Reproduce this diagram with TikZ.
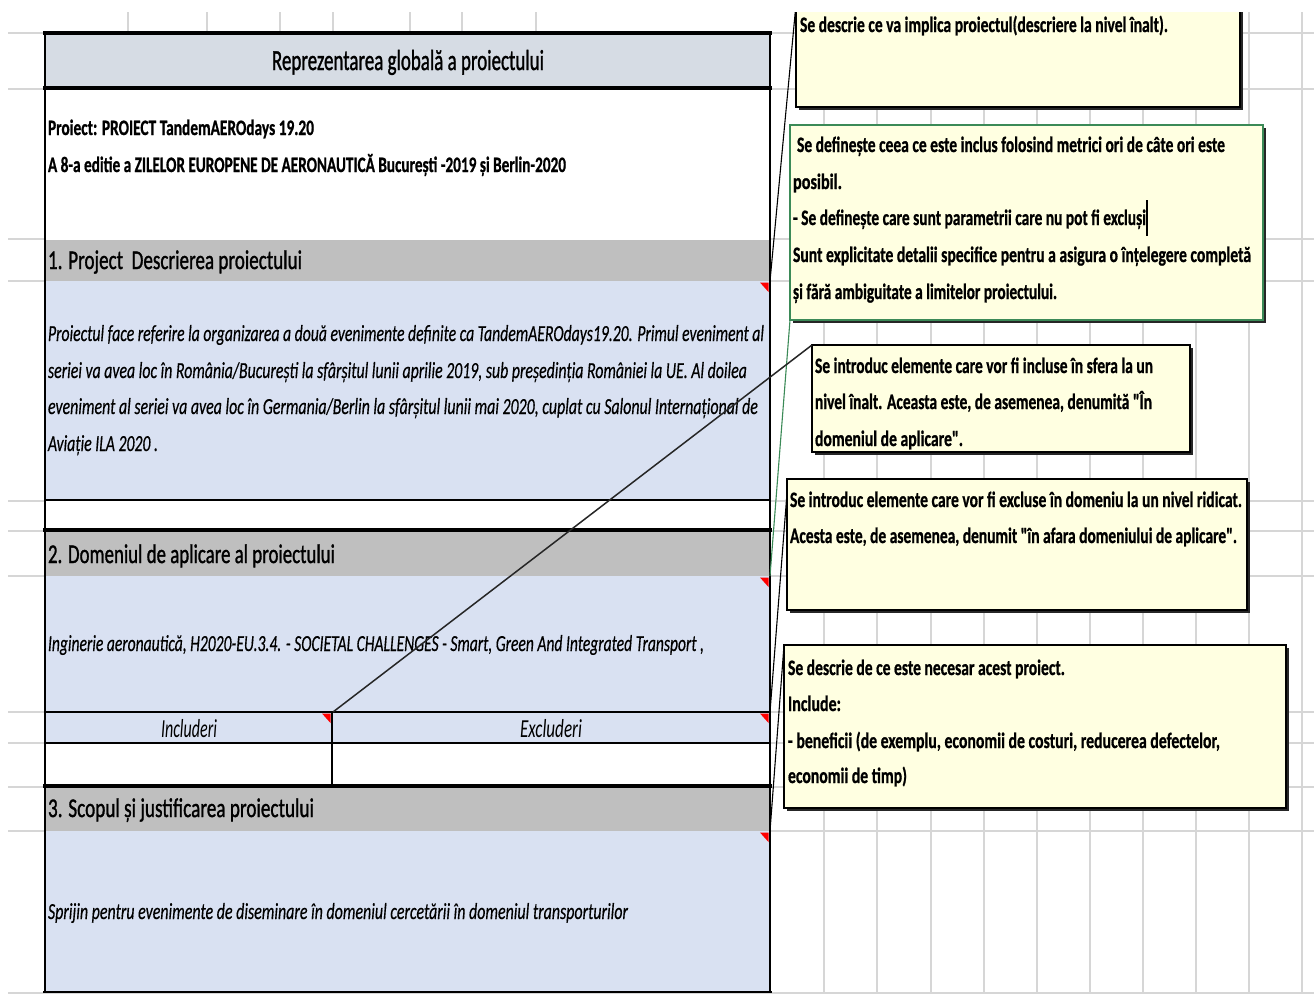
\documentclass[tikz,border=0pt]{standalone}
\usepackage{fontspec}
\usepackage{graphicx}
\setmainfont{Carlito}
% slightly heavier faces for headings and comment notes
\newfontfamily\headface{Carlito}[FakeBold=1.4]
\newfontfamily\noteface{Carlito}[BoldFeatures={FakeBold=1}]
\newfontfamily\bodyface{Carlito}[ItalicFeatures={FakeBold=0.5}]
\usetikzlibrary{shadows}
\definecolor{gridc}{HTML}{D6D6D6}
\definecolor{headc}{HTML}{D6DCE4}
\definecolor{bandc}{HTML}{BFBFBF}
\definecolor{bluec}{HTML}{D9E1F2}
\definecolor{notec}{HTML}{FFFFE1}
\definecolor{shadec}{HTML}{262626}
\definecolor{greenc}{HTML}{3B8A57}
\definecolor{markc}{HTML}{FF0000}
% squeeze a line of text to a given width (in pt), keeping its height
\newcommand\fitw[2]{\resizebox{#1pt}{\height}{#2}}
\newcommand\dq{\textquotedbl}

\begin{document}
\begin{tikzpicture}[x=1pt,y=-1pt,
  gridline/.style={draw=gridc,line width=1.8pt},
  rulethick/.style={line width=3.5pt},
  rulethin/.style={line width=1.8pt},
  txt/.style={anchor=base west,inner sep=0pt,outer sep=0pt},
  ctxt/.style={anchor=base,inner sep=0pt,outer sep=0pt},
  hfont/.style={font=\fontsize{29}{32}\headface},
  sfont/.style={font=\fontsize{27}{30}\headface},
  bfont/.style={font=\fontsize{22}{26}\noteface\bfseries},
  ifont/.style={font=\fontsize{23}{27}\bodyface\itshape},
  cfont/.style={font=\fontsize{26}{30}\selectfont\itshape},
  nfont/.style={font=\fontsize{22}{26}\noteface\bfseries},
  note/.style={draw=black,line width=1.6pt,fill=notec,anchor=north west,
    inner sep=0pt,outer sep=0pt,
    general shadow={fill=shadec,shadow xshift=3pt,shadow yshift=-3pt}},
  link/.style={draw=black,line width=1.1pt},
  marker/.style={fill=markc}]

\useasboundingbox (0,0) rectangle (1314,994);
\fill[white] (0,0) rectangle (1314,994);

\begin{scope}
\clip (0,12) rectangle (1314,994);

% sheet grid
\foreach \y in {33,89,239,281,501,531,576,712,743,787,831,993}
  \draw[gridline] (8,\y) -- (1314,\y);
\foreach \x in {824,877,931,984,1037,1090,1143,1196,1249,1302}
  \draw[gridline] (\x,0) -- (\x,994);
\foreach \x in {128,207,280,333,410,462,536}
  \draw[gridline] (\x,0) -- (\x,40);

% cell fills
\fill[headc] (45,33) rectangle (770,88);
\fill[white] (45,88) rectangle (770,240);
\fill[bandc] (45,240) rectangle (770,281);
\fill[bluec] (45,281) rectangle (770,500);
\fill[white] (45,500) rectangle (770,530);
\fill[bandc] (45,530) rectangle (770,576);
\fill[bluec] (45,576) rectangle (770,743);
\fill[white] (45,743) rectangle (770,786);
\fill[bandc] (45,786) rectangle (770,831);
\fill[bluec] (45,831) rectangle (770,992);

% borders
\draw[rulethick] (43,33) -- (772,33);
\draw[rulethick] (43,88) -- (772,88);
\draw[rulethin] (45,500) -- (770,500);
\draw[rulethick] (43,530) -- (772,530);
\draw[rulethin] (45,712) -- (770,712);
\draw[rulethin] (45,743) -- (770,743);
\draw[rulethick] (43,786) -- (772,786);
\draw[line width=2.5pt] (43,992) -- (772,992);
\draw[line width=2.5pt] (45,33) -- (45,992);
\draw[line width=2.8pt] (770,33) -- (770,992);
\draw[line width=2.5pt] (332,712) -- (332,786);

% comment indicators
\foreach \px/\py in {770/281,770/576,332/712,770/712,770/831}
  \fill[marker] (\px-10,\py+1.5) -- (\px-1.5,\py+1.5) -- (\px-1.5,\py+11) -- cycle;

% cell texts
\node[ctxt,hfont] (ttl) at (408,70) {\fitw{272}{Reprezentarea globală a proiectului}};
\node[txt,bfont] (pr1) at (48,135) {\fitw{266}{Proiect: PROIECT TandemAEROdays 19.20}};
\node[txt,bfont] (pr2) at (48,172) {\fitw{518}{A 8-a editie a ZILELOR EUROPENE DE AERONAUTICĂ București -2019 și Berlin-2020}};
\node[txt,sfont] (sec1) at (48,269) {\fitw{254}{1. Project~~Descrierea proiectului}};
\node[txt,ifont] (ds1) at (48,341) {\fitw{716}{Proiectul face referire la organizarea a două evenimente definite ca TandemAEROdays19.20. Primul eveniment al}};
\node[txt,ifont] (ds2) at (48,378) {\fitw{699}{seriei va avea loc în România/București la sfârșitul lunii aprilie 2019, sub președinția României la UE. Al doilea}};
\node[txt,ifont] (ds3) at (48,414) {\fitw{710}{eveniment al seriei va avea loc în Germania/Berlin la sfârșitul lunii mai 2020, cuplat cu Salonul Internațional de}};
\node[txt,ifont] (ds4) at (48,451) {\fitw{110}{Aviație ILA 2020 .}};
\node[txt,sfont] (sec2) at (48,563) {\fitw{287}{2. Domeniul de aplicare al proiectului}};
\node[txt,ifont] (dom) at (48,651) {\fitw{656}{Inginerie aeronautică, H2020-EU.3.4. - SOCIETAL CHALLENGES - Smart, Green And Integrated Transport ,}};
\node[ctxt,cfont] (inc) at (189,737) {\fitw{56}{Includeri}};
\node[ctxt,cfont] (exc) at (551,737) {\fitw{62}{Excluderi}};
\node[txt,sfont] (sec3) at (48,817) {\fitw{266}{3. Scopul și justificarea proiectului}};
\node[txt,ifont] (jus) at (48,919) {\fitw{580}{Sprijin pentru evenimente de diseminare în domeniul cercetării în domeniul transporturilor}};

% anchor points of the comments
\coordinate (k1) at (770,281);
\coordinate (k2) at (770,576);
\coordinate (k3) at (333,712);
\coordinate (k4) at (770,712);
\coordinate (k5) at (770,831);

% comment boxes
\node[note,minimum width=444pt,minimum height=103pt] (n1) at (796,4) {};
\node[note,draw=greenc,minimum width=473pt,minimum height=195pt] (n2) at (790,125) {};
\node[note,minimum width=378pt,minimum height=107pt] (n3) at (812,345) {};
\node[note,minimum width=460pt,minimum height=131pt] (n4) at (787,479) {};
\node[note,minimum width=502pt,minimum height=163pt] (n5) at (784,645) {};

% callout lines
\draw[link] (k1) -- (n1.north west);
\draw[link,draw=greenc] (k2) -- (n2.south west);
\draw[link,draw=black!85,line width=1.5pt] (k3) -- (n3.north west);
\draw[link] (k4) -- ([yshift=-14pt]n4.north west);
\draw[link] (k5) -- (n5.north west);

% comment texts
\node[txt,nfont] (t1) at (800,32) {\fitw{368}{Se descrie ce va implica proiectul(descriere la nivel înalt).}};

\node[txt,nfont] (t2a) at (797,152) {\fitw{428}{Se definește ceea ce este inclus folosind metrici ori de câte ori este}};
\node[txt,nfont] (t2b) at (793,189) {\fitw{49}{posibil.}};
\node[txt,nfont] (t2c) at (793,225) {\fitw{353}{- Se definește care sunt parametrii care nu pot fi excluși}};
\node[txt,nfont] (t2d) at (793,262) {\fitw{458}{Sunt explicitate detalii specifice pentru a asigura o înțelegere completă}};
\node[txt,nfont] (t2e) at (793,299) {\fitw{264}{și fără ambiguitate a limitelor proiectului.}};
\draw[line width=1.2pt] (1147,200) -- (1147,236);

\node[txt,nfont] (t3a) at (815,373) {\fitw{338}{Se introduc elemente care vor fi incluse în sfera la un}};
\node[txt,nfont] (t3b) at (815,409) {\fitw{337}{nivel înalt. Aceasta este, de asemenea, denumită \dq În}};
\node[txt,nfont] (t3c) at (815,446) {\fitw{148}{domeniul de aplicare\dq.}};

\node[txt,nfont] (t4a) at (790,507) {\fitw{452}{Se introduc elemente care vor fi excluse în domeniu la un nivel ridicat.}};
\node[txt,nfont] (t4b) at (790,543) {\fitw{447}{Acesta este, de asemenea, denumit \dq în afara domeniului de aplicare\dq.}};

\node[txt,nfont] (t5a) at (788,675) {\fitw{277}{Se descrie de ce este necesar acest proiect.}};
\node[txt,nfont] (t5b) at (788,711) {\fitw{53}{Include:}};
\node[txt,nfont] (t5c) at (788,748) {\fitw{432}{- beneficii (de exemplu, economii de costuri, reducerea defectelor,}};
\node[txt,nfont] (t5d) at (788,783) {\fitw{119}{economii de timp)}};
\end{scope}

\end{tikzpicture}
\end{document}
